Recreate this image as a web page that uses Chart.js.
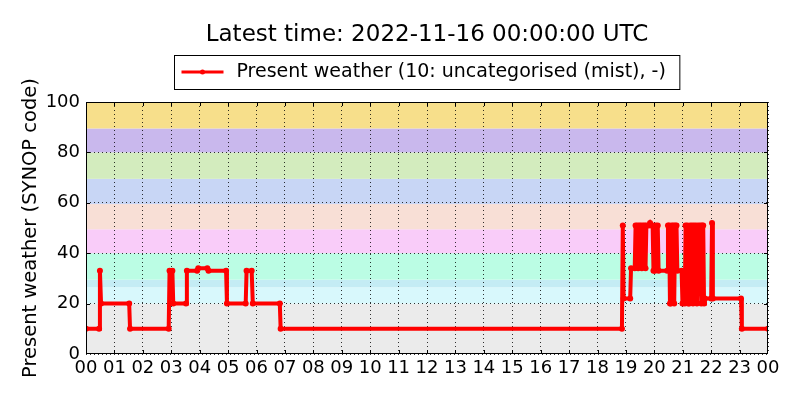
<!DOCTYPE html>
<html>
<head>
<meta charset="utf-8">
<script src="https://cdn.jsdelivr.net/npm/chart.js@4.4.0/dist/chart.umd.min.js"></script>
<style>
body { margin: 0; background: #fff; }
</style>
</head>
<body>
<canvas id="chart-present-weather" width="800" height="400"></canvas>
<script>
var titleText = "Latest time: 2022-11-16 00:00:00 UTC";
var seriesLabel = "Present weather (10: uncategorised (mist), -)";
var yTitle = "Present weather (SYNOP code)";

// hours since 00 UTC and the SYNOP code at that time
var hours = [0, 0.46, 0.49, 0.53, 1.52, 1.55, 2.91, 2.94, 3.04, 3.07,
	3.52, 3.55, 3.91, 3.95, 4.27, 4.31, 4.93, 4.96, 5.62, 5.65,
	5.83, 5.87, 6.82, 6.85, 18.86, 18.89, 18.92, 19.15, 19.18, 19.31,
	19.34, 19.40, 19.43, 19.47, 19.53, 19.56, 19.60, 19.66, 19.69, 19.72,
	19.80, 19.85, 19.90, 19.94, 19.97, 20.02, 20.05, 20.12, 20.15, 20.45,
	20.48, 20.52, 20.55, 20.58, 20.61, 20.67, 20.70, 20.73, 20.78, 20.81,
	20.96, 20.99, 21.07, 21.10, 21.16, 21.19, 21.23, 21.26, 21.33, 21.36,
	21.40, 21.47, 21.50, 21.55, 21.62, 21.65, 21.68, 21.72, 21.75, 21.78,
	22.00, 22.03, 22.06, 23.05, 23.08, 24];
var codes = [10, 10, 33, 20, 20, 10, 10, 33, 33, 20,
	20, 33, 33, 34, 34, 33, 33, 20, 20, 33,
	33, 20, 20, 10, 10, 51, 22, 22, 34, 34,
	51, 51, 34, 51, 51, 34, 51, 51, 34, 51,
	51, 52, 51, 51, 33, 33, 51, 51, 33, 33,
	51, 51, 20, 20, 51, 51, 20, 51, 51, 33,
	33, 20, 20, 51, 51, 20, 20, 51, 51, 20,
	51, 51, 20, 51, 51, 20, 51, 51, 20, 22,
	22, 52, 22, 22, 10, 10];

var yTicks = [0, 20, 40, 60, 80, 100];
var bandEdges = [0, 20, 26.5, 29.5, 40, 49.5, 59.5, 69.5, 80, 89.5, 100];
var bandColors = ["#ebebeb", "#d8f8fc", "#c4ecf4", "#bbfde4", "#f9ccf9",
	"#f8dfd6", "#c8d6f5", "#d3ecbe", "#c9b8ed", "#f7df8b"];

var fontName = "'DejaVu Sans', sans-serif";
var points = [];
for (var i = 0; i < hours.length; i++) {
	points.push({ x: hours[i], y: codes[i] });
}

function pad2(v) {
	var h = Math.round(v) % 24;
	return (h < 10 ? "0" : "") + h;
}

var bandsPlugin = {
	id: "bands",
	beforeDraw: function(chart) {
		var ctx = chart.ctx;
		var area = chart.chartArea;
		var y = chart.scales.y;
		ctx.save();
		ctx.fillStyle = "#fff";
		ctx.fillRect(0, 0, chart.width, chart.height);
		for (var i = 0; i < bandColors.length; i++) {
			var top = y.getPixelForValue(bandEdges[i + 1]);
			var bottom = y.getPixelForValue(bandEdges[i]);
			ctx.fillStyle = bandColors[i];
			ctx.fillRect(area.left, top, area.right - area.left, bottom - top);
		}
		ctx.restore();
	}
};

var framePlugin = {
	id: "frame",
	afterDraw: function(chart) {
		var ctx = chart.ctx;
		var area = chart.chartArea;
		var x = chart.scales.x;
		var y = chart.scales.y;
		ctx.save();
		ctx.strokeStyle = "#000";
		ctx.lineWidth = 1;
		// inward ticks, matplotlib classic style
		ctx.beginPath();
		for (var h = 1; h < 24; h++) {
			var px = Math.round(x.getPixelForValue(h)) + 0.5;
			ctx.moveTo(px, area.bottom);
			ctx.lineTo(px, area.bottom - 4);
			ctx.moveTo(px, area.top);
			ctx.lineTo(px, area.top + 4);
		}
		for (var k = 1; k < yTicks.length - 1; k++) {
			var py = Math.round(y.getPixelForValue(yTicks[k])) + 0.5;
			ctx.moveTo(area.left, py);
			ctx.lineTo(area.left + 4, py);
			ctx.moveTo(area.right, py);
			ctx.lineTo(area.right - 4, py);
		}
		ctx.stroke();
		ctx.strokeRect(Math.round(area.left) + 0.5, Math.round(area.top) + 0.5,
			Math.round(area.right - area.left) - 1, Math.round(area.bottom - area.top) - 1);

		// title
		var cx = (area.left + area.right) / 2;
		ctx.fillStyle = "#000";
		ctx.font = "23px " + fontName;
		ctx.textAlign = "center";
		ctx.textBaseline = "middle";
		ctx.fillText(titleText, cx, 35);

		// legend box
		ctx.font = "19px " + fontName;
		var tw = ctx.measureText(seriesLabel).width;
		var boxW = 62 + tw + 14;
		var boxL = Math.round(cx - boxW / 2) + 0.5;
		ctx.fillStyle = "#fff";
		ctx.fillRect(boxL, 55.5, boxW, 34);
		ctx.strokeRect(boxL, 55.5, boxW, 34);
		ctx.strokeStyle = "#ff0000";
		ctx.lineWidth = 3;
		ctx.beginPath();
		ctx.moveTo(boxL + 7, 72);
		ctx.lineTo(boxL + 49, 72);
		ctx.stroke();
		ctx.fillStyle = "#ff0000";
		ctx.beginPath();
		ctx.arc(boxL + 28, 72, 2.5, 0, Math.PI * 2);
		ctx.fill();
		ctx.fillStyle = "#000";
		ctx.textAlign = "left";
		ctx.fillText(seriesLabel, boxL + 62, 72);
		ctx.restore();
	}
};

var ctx = document.getElementById("chart-present-weather").getContext("2d");
var myChart = new Chart(ctx, {
	type: "line",
	data: {
		datasets: [
			{
				label: seriesLabel,
				data: points,
				borderColor: "#ff0000",
				backgroundColor: "#ff0000",
				borderWidth: 4,
				pointRadius: 3,
				pointBorderWidth: 0,
				pointBackgroundColor: "#ff0000",
				tension: 0,
				fill: false
			}
		]
	},
	options: {
		responsive: false,
		animation: false,
		layout: { padding: { top: 102, right: 32, bottom: 0, left: 0 } },
		plugins: {
			legend: { display: false },
			title: { display: false },
			tooltip: { enabled: false }
		},
		scales: {
			x: {
				type: "linear",
				min: 0,
				max: 24,
				afterFit: function(scale) { scale.height = 46; },
				afterBuildTicks: function(scale) {
					var t = [];
					for (var h = 0; h <= 24; h++) t.push({ value: h });
					scale.ticks = t;
				},
				ticks: {
					autoSkip: false,
					maxRotation: 0,
					padding: 4,
					color: "#000",
					font: { family: fontName, size: 18 },
					callback: function(value) { return pad2(value); }
				},
				grid: { color: "rgba(0,0,0,0.8)", lineWidth: 1, drawTicks: false },
				border: { display: false, dash: [1, 3] }
			},
			y: {
				min: 0,
				max: 100,
				afterFit: function(scale) { scale.width = 86; },
				ticks: {
					stepSize: 20,
					padding: 6,
					color: "#000",
					font: { family: fontName, size: 18 }
				},
				grid: { color: "rgba(0,0,0,0.8)", lineWidth: 1, drawTicks: false },
				border: { display: false, dash: [1, 3] },
				title: {
					display: true,
					text: yTitle,
					color: "#000",
					font: { family: fontName, size: 19.5 },
					padding: { top: 19, bottom: 0 }
				}
			}
		}
	},
	plugins: [bandsPlugin, framePlugin]
});
</script>
</body>
</html>
